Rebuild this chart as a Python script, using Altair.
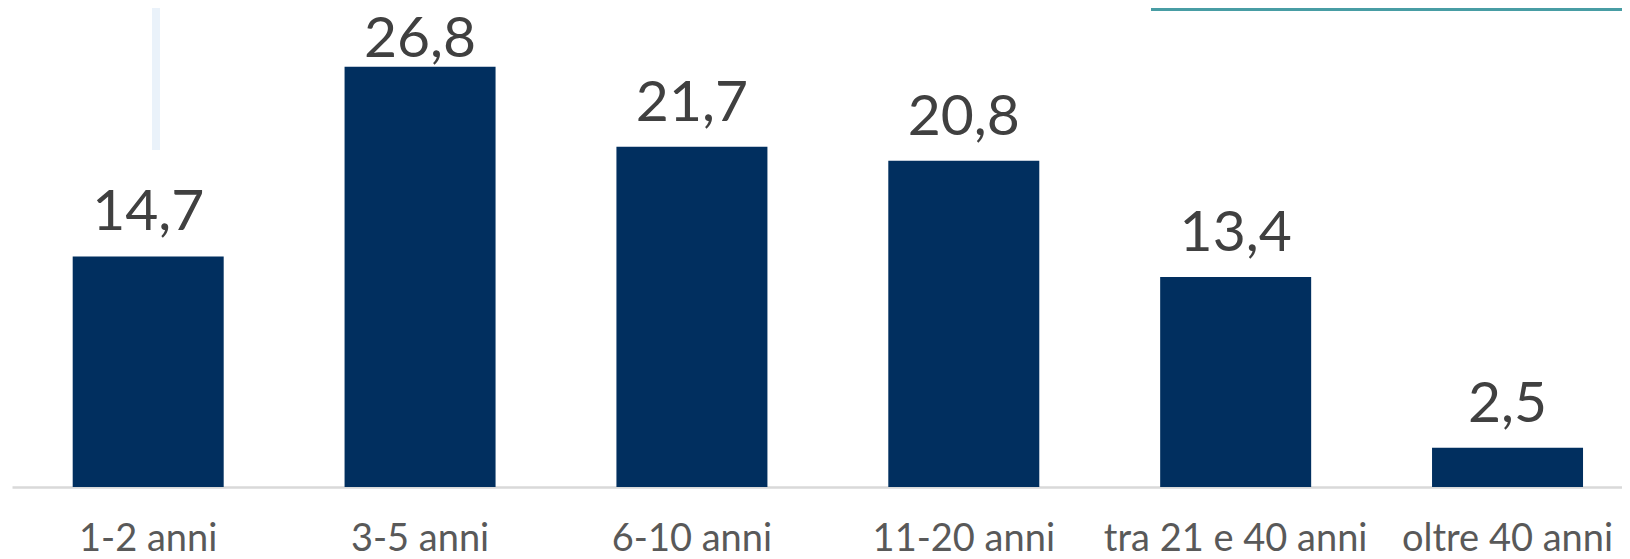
import altair as alt
import pandas as pd

categories = ["1-2 anni", "3-5 anni", "6-10 anni", "11-20 anni", "tra 21 e 40 anni", "oltre 40 anni"]
values = [14.7, 26.8, 21.7, 20.8, 13.4, 2.5]

df = pd.DataFrame({
    "cat": categories,
    "val": values,
    "lab": [f"{v:.1f}".replace(".", ",") for v in values],
})

FONT = "Lato"
YMAX = 30.55

x = alt.X(
    "cat:N",
    sort=categories,
    scale=alt.Scale(paddingInner=0.4446, paddingOuter=0.1833, align=0.609),
    axis=alt.Axis(
        title=None,
        labelAngle=0,
        labelFontSize=38,
        labelFont=FONT,
        labelColor="#595959",
        labelBaseline="alphabetic",
        labelPadding=63,
        labelLimit=0,
        ticks=False,
        domainColor="#D9D9D9",
        domainWidth=2.5,
        grid=False,
    ),
)
y = alt.Y(
    "val:Q",
    scale=alt.Scale(domain=[0, YMAX], nice=False, zero=True),
    axis=None,
)

bars = alt.Chart(df).mark_bar(color="#012F5F").encode(x=x, y=y)

labels = alt.Chart(df).transform_calculate(
    ly="min(datum.val + 1.66, 27.42)"
).mark_text(
    baseline="alphabetic", fontSize=57, font=FONT, color="#404040"
).encode(
    x=x,
    y=alt.Y("ly:Q", scale=alt.Scale(domain=[0, YMAX], nice=False, zero=True), axis=None),
    text="lab:N",
)

vline = alt.Chart(df).mark_rule(color="#EAF2FA", strokeWidth=8).encode(
    x=alt.value(144), y=alt.value(0), y2=alt.value(142)
)
teal = alt.Chart(df).mark_rect(color="#489DA4").encode(
    x=alt.value(1139), x2=alt.value(1610), y=alt.value(0), y2=alt.value(3)
)

chart = alt.layer(vline, teal, bars, labels).properties(
    width=1610,
    height=479,
    background="white",
    autosize=alt.AutoSizeParams(type="none"),
    padding={"left": 4, "top": 0, "right": 0, "bottom": 64},
).configure_view(stroke=None, strokeWidth=0)

chart.save("out.html", embed_options={"renderer": "svg", "actions": False})
